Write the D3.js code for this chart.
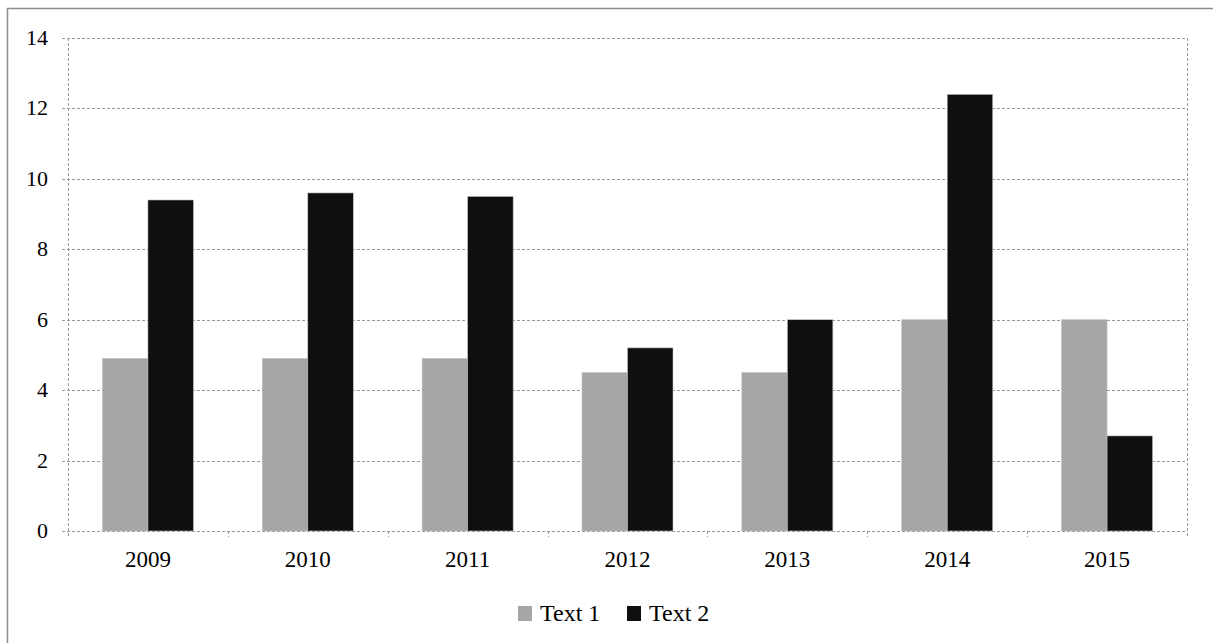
<!DOCTYPE html>
<html>
<head>
<meta charset="utf-8">
<script src="https://cdn.jsdelivr.net/npm/d3@7"></script>
<style>
  body { margin: 0; background: #fff; }
  svg text { font-family: 'Liberation Serif', 'DejaVu Serif', serif; fill: #000; }
</style>
</head>
<body>
<svg id="chart" width="1213" height="643"></svg>
<script>
var years = ["2009", "2010", "2011", "2012", "2013", "2014", "2015"];
var seriesNames = ["Text 1", "Text 2"];
var text1 = [4.9, 4.9, 4.9, 4.5, 4.5, 6.0, 6.0];
var text2 = [9.4, 9.6, 9.5, 5.2, 6.0, 12.4, 2.7];
var yTicks = [0, 2, 4, 6, 8, 10, 12, 14];
var colors = ["#a6a6a6", "#0f0f0f"];

var svg = d3.select("#chart");

// outer chart border (runs off the right/bottom edge)
svg.append("rect")
    .attr("x", 7.5).attr("y", 8.5)
    .attr("width", 1300).attr("height", 700)
    .attr("fill", "none")
    .attr("stroke", "#8c8c8c")
    .attr("stroke-width", 1.5);

var plotLeft = 68, plotTop = 38, plotRight = 1187, plotBottom = 531;

var x = d3.scaleBand().domain(years).range([plotLeft, plotRight]);
var x1 = d3.scaleBand().domain(seriesNames).range([0, 91]);
var y = d3.scaleLinear().domain([0, 14]).range([plotBottom, plotTop]);

var grid = svg.append("g");
grid.selectAll("line.h")
    .data(yTicks)
    .enter().append("line")
    .attr("class", "h")
    .attr("x1", plotLeft - 6).attr("x2", plotRight)
    .attr("y1", d => Math.round(y(d)) + 0.5)
    .attr("y2", d => Math.round(y(d)) + 0.5)
    .attr("stroke", "#9a9a9a")
    .attr("stroke-dasharray", "3,2");

// left axis and right border dashed
[plotLeft, plotRight].forEach(function(xx) {
  grid.append("line")
      .attr("x1", xx + 0.5).attr("x2", xx + 0.5)
      .attr("y1", plotTop).attr("y2", plotBottom + 6)
      .attr("stroke", "#9a9a9a")
      .attr("stroke-dasharray", "3,2");
});

// category boundary ticks
grid.selectAll("line.tick")
    .data(years.slice(1))
    .enter().append("line")
    .attr("class", "tick")
    .attr("x1", d => Math.round(x(d)) + 0.5)
    .attr("x2", d => Math.round(x(d)) + 0.5)
    .attr("y1", plotBottom).attr("y2", plotBottom + 6)
    .attr("stroke", "#9a9a9a")
    .attr("stroke-dasharray", "3,2");

var groups = svg.selectAll(".grp")
    .data(years)
    .enter().append("g")
    .attr("class", "grp")
    .attr("transform", d => "translate(" + (x(d) + (x.bandwidth() - 91) / 2) + ",0)");

groups.selectAll("rect")
    .data(function(d, i) {
      return [{k: seriesNames[0], v: text1[i], c: colors[0]},
              {k: seriesNames[1], v: text2[i], c: colors[1]}];
    })
    .enter().append("rect")
    .attr("x", d => x1(d.k))
    .attr("width", x1.bandwidth())
    .attr("y", d => y(d.v))
    .attr("height", d => y(0) - y(d.v))
    .attr("fill", d => d.c)
    .attr("stroke", "#bfbfbf")
    .attr("stroke-width", 0.6);

// y labels
svg.append("g").selectAll("text")
    .data(yTicks)
    .enter().append("text")
    .attr("x", 48)
    .attr("y", d => y(d) + 7)
    .attr("text-anchor", "end")
    .style("font-size", "22px")
    .text(d => d);

// x labels
svg.append("g").selectAll("text")
    .data(years)
    .enter().append("text")
    .attr("x", d => x(d) + x.bandwidth() / 2)
    .attr("y", 567)
    .attr("text-anchor", "middle")
    .style("font-size", "23px")
    .text(d => d);

// legend
var legend = svg.append("g");
var legendX = [518, 627];
seriesNames.forEach(function(name, i) {
  legend.append("rect")
      .attr("x", legendX[i]).attr("y", 606)
      .attr("width", 14).attr("height", 15)
      .attr("fill", colors[i]);
  legend.append("text")
      .attr("x", legendX[i] + 22).attr("y", 621)
      .style("font-size", "24px")
      .text(name);
});
</script>
</body>
</html>
